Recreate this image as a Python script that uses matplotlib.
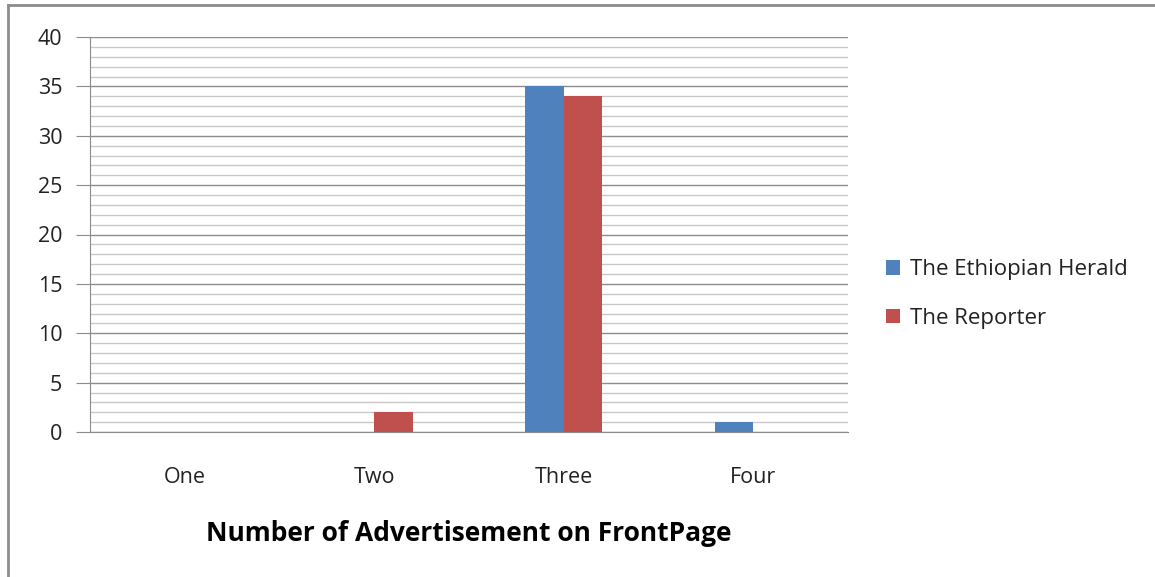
import matplotlib
matplotlib.use("Agg")
import matplotlib.pyplot as plt
from matplotlib.lines import Line2D
import numpy as np

categories = ["One", "Two", "Three", "Four"]
series_names = ["The Ethiopian Herald", "The Reporter"]
herald = [0, 0, 35, 1]
reporter = [0, 2, 34, 0]
colors = ["#4F81BD", "#C0504D"]
xlabel = "Number of Advertisement on FrontPage"

plt.rcParams['font.family'] = ['Open Sans', 'DejaVu Sans']

W, H = 1155, 577
fig = plt.figure(figsize=(W/100, H/100), dpi=100)
ax = fig.add_axes([90/W, 1-432/H, (848-90)/W, (432-37)/H])

x = np.arange(len(categories))
bw = 0.203
ax.bar(x - bw/2, herald, bw, color=colors[0], label=series_names[0], zorder=3)
ax.bar(x + bw/2, reporter, bw, color=colors[1], label=series_names[1], zorder=3)

ax.set_xlim(-0.5, len(categories) - 0.5)
ax.set_ylim(0, 40)
ax.set_yticks(np.arange(0, 41, 5))
ax.set_yticks(np.arange(0, 41, 1), minor=True)
ax.grid(axis='y', which='minor', color='#C8C8C8', linewidth=1.0, zorder=0)
ax.grid(axis='y', which='major', color='#8C8C8C', linewidth=1.0, zorder=1)
ax.set_axisbelow(True)

for s in ['top', 'right']:
    ax.spines[s].set_visible(False)
ax.spines['left'].set_color('#8C8C8C')
ax.spines['bottom'].set_color('#8C8C8C')

fs = 15.5
ax.tick_params(axis='y', which='major', length=10, color='#8C8C8C', labelsize=fs, labelcolor='#222222', pad=10)
ax.tick_params(axis='y', which='minor', length=0)
ax.tick_params(axis='x', length=0, labelsize=fs, labelcolor='#222222', pad=25)
ax.set_xticks(x)
ax.set_xticklabels(categories)

ax.set_xlabel(xlabel, fontsize=19, fontweight='bold', labelpad=23, color='black')

leg = ax.legend(loc='center left', bbox_to_anchor=((886 - 90)/758, (432 - 294)/395),
                frameon=False, fontsize=16, handlelength=0.62, handleheight=0.62,
                handletextpad=0.45, labelspacing=1.22, borderaxespad=0, borderpad=0)
for t in leg.get_texts():
    t.set_color('#222222')

# outer frame (top and left edges)
fig.add_artist(Line2D([8/W, 1], [1-5/H, 1-5/H], transform=fig.transFigure, color='#8C8C8C', linewidth=2))
fig.add_artist(Line2D([8/W, 8/W], [0, 1-5/H], transform=fig.transFigure, color='#8C8C8C', linewidth=2))

fig.savefig("out.png", dpi=100, facecolor='white')
